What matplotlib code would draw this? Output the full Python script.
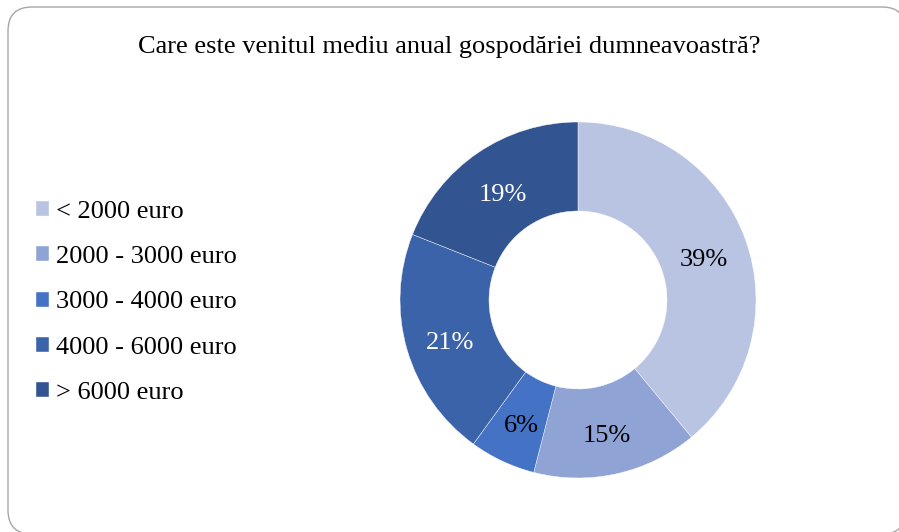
import matplotlib

matplotlib.use("Agg")

import matplotlib.pyplot as plt
from matplotlib.patches import FancyBboxPatch

TITLE = "Care este venitul mediu anual gospodăriei dumneavoastră?"
categories = ["< 2000 euro", "2000 - 3000 euro", "3000 - 4000 euro", "4000 - 6000 euro", "> 6000 euro"]
shares = [39, 15, 6, 21, 19]
colors = ["#B9C3E2", "#8FA4D4", "#4472C4", "#3B63AA", "#325591"]
label_colors = ["black", "black", "black", "white", "white"]

plt.rcParams["font.family"] = ["Liberation Serif", "DejaVu Serif"]

fig = plt.figure(figsize=(8.99, 5.32), dpi=100)

# rounded frame around the whole chart
frame = FancyBboxPatch(
    (0.08, -0.02), 8.98, 5.27,
    boxstyle="round,pad=0,rounding_size=0.24",
    transform=fig.dpi_scale_trans,
    facecolor="white", edgecolor="#A6A6A6", linewidth=1.0, zorder=0,
)
fig.add_artist(frame)

fig.text(0.5, 1 - 47 / 532, TITLE, ha="center", va="center", fontsize=19)

ax = fig.add_axes([400 / 899, 54 / 532, 356 / 899, 356 / 532])
wedges, _, autotexts = ax.pie(
    shares,
    colors=colors,
    startangle=90,
    counterclock=False,
    radius=1.0,
    wedgeprops=dict(width=0.5, edgecolor="white", linewidth=0.3),
    autopct=lambda p: f"{p:.0f}%",
    pctdistance=0.75,
    textprops=dict(fontsize=19),
)
for t, c in zip(autotexts, label_colors):
    t.set_color(c)
    x, y = t.get_position()
    t.set_position((x, y - 0.03))  # nudge to sit like the original labels
ax.set_xlim(-1, 1)
ax.set_ylim(-1, 1)
ax.set_aspect("equal")
ax.axis("off")

fig.legend(
    wedges, categories,
    loc="upper left",
    bbox_to_anchor=(36 / 899, 1 - 201 / 532),
    frameon=False,
    fontsize=19,
    handlelength=0.5,
    handleheight=0.5,
    handletextpad=0.27,
    labelspacing=0.88,
    borderpad=0,
    borderaxespad=0,
)

fig.savefig("out.png", dpi=100)
